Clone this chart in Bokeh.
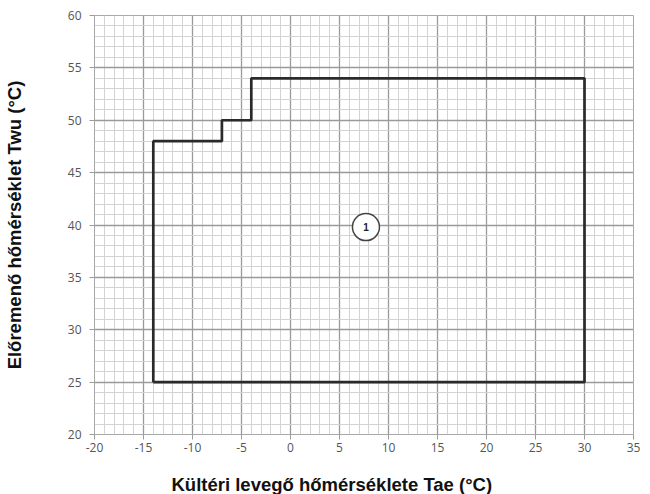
from bokeh.plotting import figure
from bokeh.models import ColumnDataSource, FixedTicker, Range1d, Title
from bokeh.embed import file_html
from bokeh.resources import INLINE
from bokeh.core.properties import value

# Data
boundary_x = [-14, -14, -7, -7, -4, -4, 30, 30, -14]
boundary_y = [25, 48, 48, 50, 50, 54, 54, 25, 25]
zone_x = [7.7]
zone_y = [39.8]
zone_label = ["1"]
x_ticks = list(range(-20, 36, 5))
y_ticks = list(range(20, 61, 5))
x_minor = list(range(-20, 36, 1))
y_minor = list(range(20, 61, 1))

p = figure(width=650, height=494, output_backend="svg", toolbar_location=None,
           x_range=Range1d(-20, 35), y_range=Range1d(20, 60),
           min_border_left=93, min_border_right=17, min_border_top=15, min_border_bottom=0)
p.outline_line_color = "#a8a8a8"
p.background_fill_color = "white"

p.xgrid.ticker = FixedTicker(ticks=x_ticks, minor_ticks=x_minor)
p.ygrid.ticker = FixedTicker(ticks=y_ticks, minor_ticks=y_minor)
for g in (p.xgrid, p.ygrid):
    g.grid_line_color = "#9a9a9a"
    g.grid_line_width = 1.3
    g.minor_grid_line_color = "#d3d3d3"
    g.minor_grid_line_width = 1

p.xaxis.ticker = FixedTicker(ticks=x_ticks)
p.yaxis.ticker = FixedTicker(ticks=y_ticks)
p.xaxis.major_label_overrides = {t: str(t) for t in x_ticks}
p.yaxis.major_label_overrides = {t: str(t) for t in y_ticks}
for ax in (p.xaxis, p.yaxis):
    ax.axis_line_color = None
    ax.major_tick_line_color = "#9a9a9a"
    ax.major_tick_out = 5
    ax.major_tick_in = 0
    ax.minor_tick_line_color = None
    ax.major_label_text_font = "Open Sans"
    ax.major_label_text_font_size = "12px"
    ax.major_label_text_color = "#555555"
    ax.axis_label_text_font = "Liberation Sans"
    ax.axis_label_text_font_style = "bold"
    ax.axis_label_text_font_size = "18.5px"
    ax.axis_label_text_color = "#111111"

p.yaxis.axis_label = "Előremenő hőmérséklet Twu (°C)"
p.xaxis.major_label_standoff = 3
p.yaxis.major_label_standoff = 8
p.yaxis.axis_label_standoff = 40
# spacer label to push the x title down
p.xaxis.axis_label = " "
p.xaxis.axis_label_text_font_size = "1px"
p.xaxis.axis_label_standoff = 13

xt = Title(text="Kültéri levegő hőmérséklete Tae (°C)", align="left", offset=77,
           text_font="Liberation Sans", text_font_style="bold", text_font_size="18.5px",
           text_color="#111111", standoff=0)
p.add_layout(xt, "below")

p.line(boundary_x, boundary_y, line_color="#2a2a2a", line_width=2.7)

src = ColumnDataSource(dict(x=zone_x, y=zone_y, t=zone_label))
p.scatter("x", "y", source=src, size=27, marker="circle", fill_color="white",
          line_color="#444444", line_width=1.5)
p.text("x", "y", text="t", source=src, text_align="center", text_baseline="middle",
       text_font=value("Liberation Sans"), text_font_style="bold", text_font_size="10px",
       text_color="#222222")

open("out.html", "w").write(file_html(p, INLINE))
